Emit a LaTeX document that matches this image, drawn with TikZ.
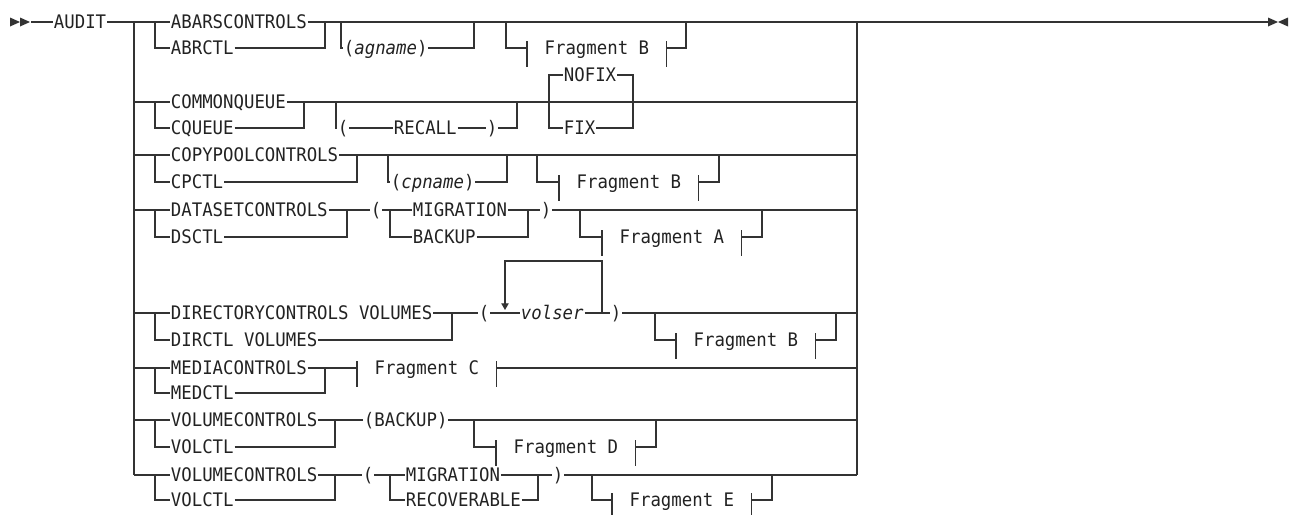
\documentclass[tikz,border=0pt]{standalone}
\usepackage{fontspec}
\setmonofont[FakeStretch=0.93]{DejaVu Sans Mono}
\usepackage{tikz}
\usetikzlibrary{arrows.meta}
\definecolor{railgray}{HTML}{333333}
\definecolor{railtext}{HTML}{222222}

\begin{document}
\begin{tikzpicture}[x=0.75pt,y=-0.75pt,
  kw/.style={anchor=west,inner xsep=0.5pt,inner ysep=0pt,text height=10.2pt,
             text depth=0pt,text=railtext,font=\ttfamily\fontsize{14pt}{16pt}\selectfont},
  frag/.style={kw,inner xsep=13pt},
  rail/.style={draw=railgray,line width=0.9pt},
  tip/.style={fill=railgray}]
  \useasboundingbox (0,0) rectangle (1291,514);
  \foreach \y [count=\i] in {22,102,155,210,313,368,420,475} {
    \coordinate (b\i) at (134,\y);
    \coordinate (a\i) at (155,\y);
    \coordinate (r\i) at (857,\y);
  }
  \coordinate (begin) at (31,22);
  \coordinate (stop) at (1268,22);
  \fill[tip] (10,17.5) -- (20,22) -- (10,26.5) -- cycle;
  \fill[tip] (20,17.5) -- (30,22) -- (20,26.5) -- cycle;
  \fill[tip] (1268,17.5) -- (1278,22) -- (1268,26.5) -- cycle;
  \fill[tip] (1288,17.5) -- (1278,22) -- (1288,26.5) -- cycle;
  \node[kw] (audit) at (53,22) {AUDIT};

  \node[kw] (abars) at (170,22) {ABARSCONTROLS};
  \node[kw] (abrctl) at (170,48) {ABRCTL};
  \coordinate (m1) at (325,22);
  \coordinate (o1) at (341,22);
  \node[kw] (agname) at (343,48) {(\textit{agname})};
  \coordinate (o1b) at (474,22);
  \coordinate (o2) at (506,22);
  \node[frag] (fb1) at (527,48) {Fragment B};
  \coordinate (o2b) at (686,22);

  \node[kw] (cq) at (170,102) {COMMONQUEUE};
  \node[kw] (cqs) at (170,128) {CQUEUE};
  \coordinate (m2) at (304,102);
  \coordinate (o3) at (336,102);
  \node[kw] (lp2) at (337,128) {(};
  \node[kw] (recall) at (393,128) {RECALL};
  \node[kw] (rp2) at (486,128) {)};
  \coordinate (o3b) at (517,102);
  \coordinate (f1) at (549,102);
  \coordinate (f2) at (633,102);
  \node[kw] (nofix) at (563,75) {NOFIX};
  \node[kw] (fix) at (563,128) {FIX};

  \node[kw] (cpc) at (170,155) {COPYPOOLCONTROLS};
  \node[kw] (cpctl) at (170,182) {CPCTL};
  \coordinate (m3) at (357,155);
  \coordinate (o4) at (388,155);
  \node[kw] (cpname) at (390,182) {(\textit{cpname})};
  \coordinate (o4b) at (507,155);
  \coordinate (o5) at (537,155);
  \node[frag] (fb2) at (559,182) {Fragment B};
  \coordinate (o5b) at (719,155);

  \node[kw] (dsc) at (170,210) {DATASETCONTROLS};
  \node[kw] (dsctl) at (170,237) {DSCTL};
  \coordinate (m4) at (347,210);
  \node[kw] (lp4) at (370,210) {(};
  \coordinate (c4) at (390,210);
  \node[kw] (mig4) at (412,210) {MIGRATION};
  \node[kw] (bak4) at (412,237) {BACKUP};
  \coordinate (n4) at (528,210);
  \node[kw] (rp4) at (540,210) {)};
  \coordinate (o6) at (580,210);
  \node[frag] (fa) at (602,237) {Fragment A};
  \coordinate (o6b) at (762,210);

  \node[kw] (dcv) at (170,313) {DIRECTORYCONTROLS VOLUMES};
  \node[kw] (dcs) at (170,340) {DIRCTL VOLUMES};
  \coordinate (m5) at (452,313);
  \node[kw] (lp5) at (478,313) {(};
  \node[kw] (volser) at (520,313) {\textit{volser}};
  \node[kw] (rp5) at (610,313) {)};
  \coordinate (l5b) at (602,313);
  \coordinate (l5t) at (505,261);
  \coordinate (l5a) at (505,310);
  \coordinate (o7) at (655,313);
  \node[frag] (fb3) at (676,340) {Fragment B};
  \coordinate (o7b) at (836,313);

  \node[kw] (mc) at (170,368) {MEDIACONTROLS};
  \node[kw] (mcs) at (170,393) {MEDCTL};
  \coordinate (m6) at (325,368);
  \node[frag] (fc) at (357,368) {Fragment C};

  \node[kw] (vc7) at (170,420) {VOLUMECONTROLS};
  \node[kw] (vs7) at (170,447) {VOLCTL};
  \coordinate (m7) at (335,420);
  \node[kw] (bk7) at (363,420) {(BACKUP)};
  \coordinate (o8) at (474,420);
  \node[frag] (fd) at (496,447) {Fragment D};
  \coordinate (o8b) at (656,420);

  \node[kw] (vc8) at (170,475) {VOLUMECONTROLS};
  \node[kw] (vs8) at (170,500) {VOLCTL};
  \coordinate (m8) at (335,475);
  \node[kw] (lp8) at (362,475) {(};
  \coordinate (c8) at (390,475);
  \node[kw] (mig8) at (405,475) {MIGRATION};
  \node[kw] (rec8) at (405,500) {RECOVERABLE};
  \coordinate (n8) at (538,475);
  \node[kw] (rp8) at (552,475) {)};
  \coordinate (o9) at (592,475);
  \node[frag] (fe) at (612,500) {Fragment E};
  \coordinate (o9b) at (772,475);

  \draw[rail] (begin) -- (audit.west);
  \draw[rail] (audit.east) -- (abars.west);
  \draw[rail] (abars.east) -- (stop);
  \draw[rail] (b1) -- (b8);
  \draw[rail] (r1) -- (r8);
  \foreach \t/\i in {cq/2,cpc/3,dsc/4,dcv/5,mc/6,vc7/7,vc8/8}
    \draw[rail] (b\i) -- (\t.west);
  \foreach \s/\i/\m in {abrctl/1/m1,cqs/2/m2,cpctl/3/m3,dsctl/4/m4,dcs/5/m5,mcs/6/m6,vs7/7/m7,vs8/8/m8}
    \draw[rail] (a\i) |- (\s.west) (\s.east) -| (\m);
  \foreach \f in {fb1,fb2,fa,fb3,fc,fd,fe}
    \draw[rail] (\f.west) ++(0,-7) -- ++(0,26) (\f.east) ++(0,-7) -- ++(0,26);
  \foreach \p/\n/\q in {o1/agname/o1b,o2/fb1/o2b,o4/cpname/o4b,o5/fb2/o5b,o6/fa/o6b,
                        o7/fb3/o7b,o8/fd/o8b,o9/fe/o9b}
    \draw[rail] (\p) |- (\n.west) (\n.east) -| (\q);

  \draw[rail] (cq.east) -- (r2);
  \draw[rail] (o3) |- (lp2.west);
  \draw[rail] (lp2.east) -- (recall.west);
  \draw[rail] (recall.east) -- (rp2.west);
  \draw[rail] (rp2.east) -| (o3b);
  \draw[rail] (nofix.west) -| (f1) |- (fix.west);
  \draw[rail] (nofix.east) -| (f2) |- (fix.east);

  \draw[rail] (cpc.east) -- (r3);

  \draw[rail] (dsc.east) -- (lp4.west);
  \draw[rail] (lp4.east) -- (mig4.west);
  \draw[rail] (c4) |- (bak4.west);
  \draw[rail] (bak4.east) -| (n4);
  \draw[rail] (mig4.east) -- (rp4.west);
  \draw[rail] (rp4.east) -- (r4);

  \draw[rail] (dcv.east) -- (lp5.west);
  \draw[rail] (lp5.east) -- (volser.west);
  \draw[rail] (volser.east) -- (rp5.west);
  \draw[rail] (rp5.east) -- (r5);
  \draw[rail,-{Triangle[length=5pt,width=5.5pt]}] (l5b) |- (l5t) -- (l5a);

  \draw[rail] (mc.east) -- (fc.west);
  \draw[rail] (fc.east) -- (r6);

  \draw[rail] (vc7.east) -- (bk7.west);
  \draw[rail] (bk7.east) -- (r7);

  \draw[rail] (vc8.east) -- (lp8.west);
  \draw[rail] (lp8.east) -- (mig8.west);
  \draw[rail] (c8) |- (rec8.west);
  \draw[rail] (rec8.east) -| (n8);
  \draw[rail] (mig8.east) -- (rp8.west);
  \draw[rail] (rp8.east) -- (r8);
\end{tikzpicture}
\end{document}
